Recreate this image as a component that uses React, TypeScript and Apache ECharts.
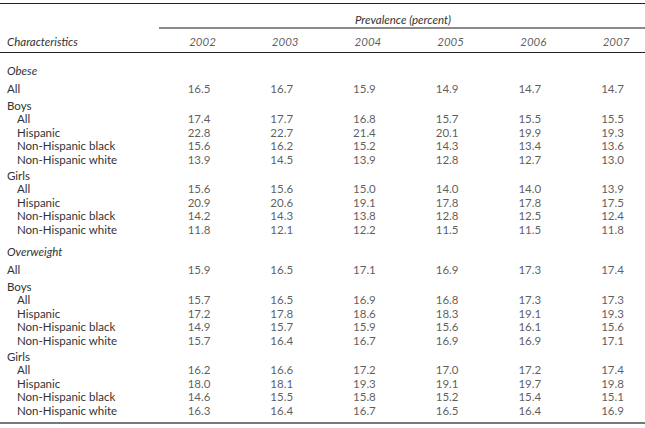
import React, { useEffect, useRef } from "react";
import * as echarts from "echarts";

// ---- data ----
const years = ["2002", "2003", "2004", "2005", "2006", "2007"];
const sections = ["Obese", "Overweight"];
const subgroupLabels = ["All", "Hispanic", "Non-Hispanic black", "Non-Hispanic white"];

const obeseAll = [16.5, 16.7, 15.9, 14.9, 14.7, 14.7];
const obeseBoys = [
  [17.4, 17.7, 16.8, 15.7, 15.5, 15.5],
  [22.8, 22.7, 21.4, 20.1, 19.9, 19.3],
  [15.6, 16.2, 15.2, 14.3, 13.4, 13.6],
  [13.9, 14.5, 13.9, 12.8, 12.7, 13.0],
];
const obeseGirls = [
  [15.6, 15.6, 15.0, 14.0, 14.0, 13.9],
  [20.9, 20.6, 19.1, 17.8, 17.8, 17.5],
  [14.2, 14.3, 13.8, 12.8, 12.5, 12.4],
  [11.8, 12.1, 12.2, 11.5, 11.5, 11.8],
];
const overweightAll = [15.9, 16.5, 17.1, 16.9, 17.3, 17.4];
const overweightBoys = [
  [15.7, 16.5, 16.9, 16.8, 17.3, 17.3],
  [17.2, 17.8, 18.6, 18.3, 19.1, 19.3],
  [14.9, 15.7, 15.9, 15.6, 16.1, 15.6],
  [15.7, 16.4, 16.7, 16.9, 16.9, 17.1],
];
const overweightGirls = [
  [16.2, 16.6, 17.2, 17.0, 17.2, 17.4],
  [18.0, 18.1, 19.3, 19.1, 19.7, 19.8],
  [14.6, 15.5, 15.8, 15.2, 15.4, 15.1],
  [16.3, 16.4, 16.7, 16.5, 16.4, 16.9],
];

// ---- layout ----
const W = 645;
const H = 428;
const FONT = "Lato";
const TEXT = "#333";
const FS = 11.5;
const COL0 = 199; // pixel centre of first value column
const COLSTEP = 82.7;
const START_Y = 70;
const GAP_SECTION = 22;
const GAP_AFTER_SECTION = 18;
const GAP_GROUP_BOYS = 17;
const GAP_GROUP_GIRLS = 16;
const GAP_ROW = 13.5;

type Row = { label: string; kind: "section" | "all" | "group" | "sub"; values?: number[]; y: number };

function buildRows(): Row[] {
  const rows: Row[] = [];
  let y = START_Y;
  const secData = [
    { all: obeseAll, boys: obeseBoys, girls: obeseGirls },
    { all: overweightAll, boys: overweightBoys, girls: overweightGirls },
  ];
  sections.forEach((name, si) => {
    if (si > 0) y += GAP_SECTION;
    rows.push({ label: name, kind: "section", y });
    y += GAP_AFTER_SECTION;
    rows.push({ label: "All", kind: "all", values: secData[si].all, y });
    y += GAP_GROUP_BOYS;
    rows.push({ label: "Boys", kind: "group", y });
    secData[si].boys.forEach((v, i) => {
      y += GAP_ROW;
      rows.push({ label: subgroupLabels[i], kind: "sub", values: v, y });
    });
    y += GAP_GROUP_GIRLS;
    rows.push({ label: "Girls", kind: "group", y });
    secData[si].girls.forEach((v, i) => {
      y += GAP_ROW;
      rows.push({ label: subgroupLabels[i], kind: "sub", values: v, y });
    });
  });
  return rows;
}

export default function App() {
  const ref = useRef<HTMLDivElement>(null);
  useEffect(() => {
    document.body.style.margin = "0";
    if (!ref.current) return;
    const chart = echarts.init(ref.current, null, { renderer: "svg" });
    const rows = buildRows();

    const cellData: any[] = [];
    rows.forEach((r) => {
      if (r.values) r.values.forEach((v, ci) => cellData.push([ci, r.y, v]));
    });
    const yearData = years.map((yr, i) => [i, 41, yr]);

    const labelTexts = rows.map((r) => ({
      type: "text",
      x: r.kind === "sub" ? 17 : 7,
      y: r.y,
      silent: true,
      style: {
        text: r.label,
        fill: TEXT,
        font: `${r.kind === "section" ? "italic " : ""}${FS}px ${FONT}`,
        verticalAlign: "middle",
        align: "left",
      },
    }));

    chart.setOption({
      animation: false,
      grid: { left: 0, right: 0, top: 0, bottom: 0, containLabel: false },
      xAxis: {
        type: "value",
        min: -COL0 / COLSTEP,
        max: (W - COL0) / COLSTEP,
        show: false,
      },
      yAxis: { type: "value", min: 0, max: H, inverse: true, show: false },
      series: [
        {
          type: "scatter",
          symbolSize: 0,
          silent: true,
          data: cellData,
          label: {
            show: true,
            position: "inside",
            formatter: (p: any) => Number(p.value[2]).toFixed(1),
            color: TEXT,
            fontSize: FS,
            fontFamily: FONT,
          },
        },
        {
          type: "scatter",
          symbolSize: 0,
          silent: true,
          data: yearData,
          label: {
            show: true,
            position: "inside",
            offset: [3.5, 0],
            formatter: (p: any) => p.value[2],
            color: TEXT,
            fontSize: FS,
            fontStyle: "italic",
            fontFamily: FONT,
          },
        },
      ],
      graphic: [
        { type: "line", silent: true, shape: { x1: 0, y1: 3.5, x2: W, y2: 3.5 }, style: { stroke: "#222", lineWidth: 1 } },
        { type: "line", silent: true, shape: { x1: 159, y1: 28, x2: W, y2: 28 }, style: { stroke: "#8a8a8a", lineWidth: 2 } },
        { type: "line", silent: true, shape: { x1: 0, y1: 52.5, x2: W, y2: 52.5 }, style: { stroke: "#222", lineWidth: 1 } },
        { type: "line", silent: true, shape: { x1: 0, y1: 423, x2: W, y2: 423 }, style: { stroke: "#777", lineWidth: 2 } },
        {
          type: "text",
          x: 403,
          y: 19,
          silent: true,
          style: { text: "Prevalence (percent)", fill: TEXT, font: `italic ${FS}px ${FONT}`, align: "center", verticalAlign: "middle" },
        },
        {
          type: "text",
          x: 7,
          y: 41,
          silent: true,
          style: { text: "Characteristics", fill: TEXT, font: `italic ${FS}px ${FONT}`, align: "left", verticalAlign: "middle" },
        },
        ...labelTexts,
      ],
    });
    return () => chart.dispose();
  }, []);
  return <div ref={ref} style={{ width: W, height: H }} />;
}
